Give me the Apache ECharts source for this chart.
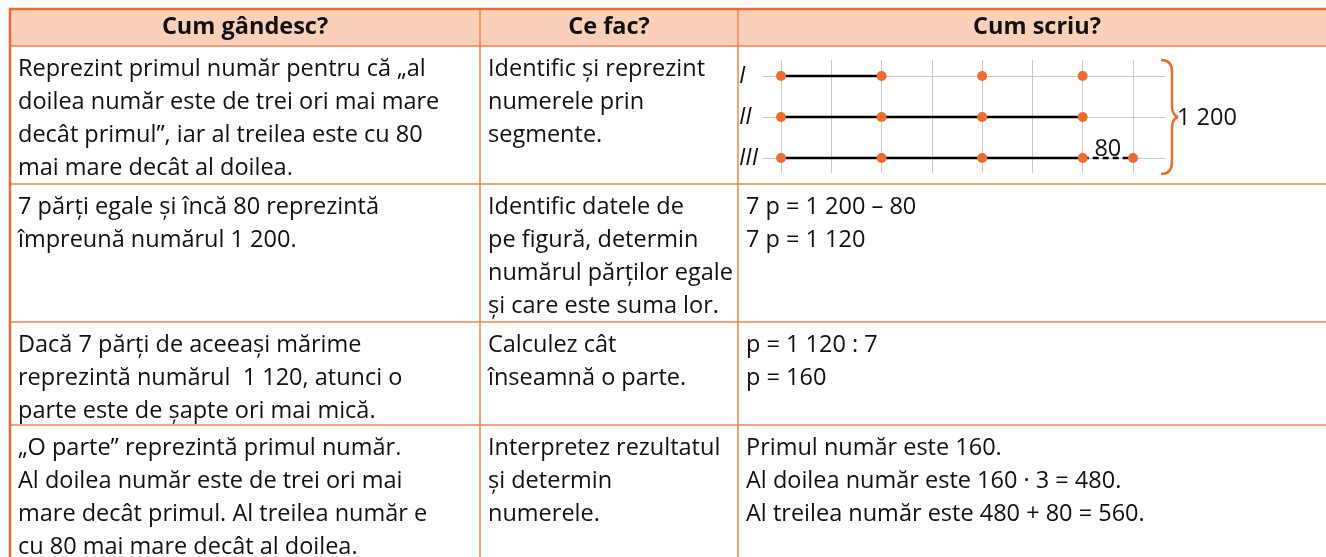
<!DOCTYPE html>
<html>
<head>
<meta charset="utf-8">
<script src="https://cdn.jsdelivr.net/npm/echarts@6/dist/echarts.min.js"></script>
<style>
html,body{margin:0;padding:0;background:#fff;}
#chart{width:1326px;height:557px;}
</style>
</head>
<body>
<div id="chart"></div>
<script>
// ---------- DATA ----------
const headers = ['Cum gândesc?', 'Ce fac?', 'Cum scriu?'];

const col1Texts = [
  ['Reprezint primul număr pentru că „al', 'doilea număr este de trei ori mai mare', 'decât primul”, iar al treilea este cu 80', 'mai mare decât al doilea.'],
  ['7 părți egale și încă 80 reprezintă', 'împreună numărul 1 200.'],
  ['Dacă 7 părți de aceeași mărime', 'reprezintă numărul  1 120, atunci o', 'parte este de șapte ori mai mică.'],
  ['„O parte” reprezintă primul număr.', 'Al doilea număr este de trei ori mai', 'mare decât primul. Al treilea număr e', 'cu 80 mai mare decât al doilea.']
];
const col2Texts = [
  ['Identific și reprezint', 'numerele prin', 'segmente.'],
  ['Identific datele de', 'pe figură, determin', 'numărul părților egale', 'și care este suma lor.'],
  ['Calculez cât', 'înseamnă o parte.'],
  ['Interpretez rezultatul', 'și determin', 'numerele.']
];
const col3Texts = [
  null,
  ['7 p = 1 200 – 80', '7 p = 1 120'],
  ['p = 1 120 : 7', 'p = 160'],
  ['Primul număr este 160.', 'Al doilea număr este 160 · 3 = 480.', 'Al treilea număr este 480 + 80 = 560.']
];

// segment diagram
const rowLabels = ['I', 'II', 'III'];
const gridTicks = [0, 80, 160, 240, 320, 400, 480, 560];
const dotValues = [
  [0, 160, 320, 480],
  [0, 160, 320, 480],
  [0, 160, 320, 480, 560]
];
const solidSegments = [[0, 160], [0, 480], [0, 480]];
const dashedSegment = { row: 2, from: 480, to: 560, label: '80' };
const totalLabel = '1 200';

// ---------- LAYOUT ----------
const FONT = '"Open Sans", Lato, "Noto Sans", sans-serif';
const FS = 23.5;
const LH = 33;
const ORANGE = '#F26B2A';
const INNER = '#F3834F';
const colX = [10, 480, 738, 1336];
const rowY = [9, 46, 184, 322, 425, 600];

const graphics = [];
graphics.push({ type: 'rect', shape: { x: colX[0], y: rowY[0], width: colX[3] - colX[0], height: rowY[1] - rowY[0] }, style: { fill: '#FBD0BA' }, z: 0 });
for (let i = 1; i <= 4; i++) {
  graphics.push({ type: 'line', shape: { x1: colX[0], y1: rowY[i], x2: 1326, y2: rowY[i] }, style: { stroke: INNER, lineWidth: 1.5 }, z: 2 });
}
[colX[1], colX[2]].forEach(x => graphics.push({ type: 'line', shape: { x1: x, y1: rowY[0], x2: x, y2: 557 }, style: { stroke: INNER, lineWidth: 1.5 }, z: 2 }));
graphics.push({ type: 'line', shape: { x1: colX[0], y1: rowY[0], x2: 1326, y2: rowY[0] }, style: { stroke: ORANGE, lineWidth: 2.5 }, z: 3 });
graphics.push({ type: 'line', shape: { x1: colX[0], y1: rowY[0] - 1.2, x2: colX[0], y2: 557 }, style: { stroke: ORANGE, lineWidth: 2.5 }, z: 3 });

headers.forEach((h, i) => {
  graphics.push({ type: 'text', x: (colX[i] + colX[i + 1]) / 2, y: (rowY[0] + rowY[1]) / 2, z: 5,
    style: { text: h, font: 'bold ' + FS + 'px ' + FONT, fill: '#111', align: 'center', verticalAlign: 'middle' } });
});
function cell(lines, col, row) {
  if (!lines) return;
  graphics.push({ type: 'text', x: colX[col] + 8, y: rowY[row + 1] + 7, z: 5,
    style: { text: lines.join('\n'), font: FS + 'px ' + FONT, fill: '#111', lineHeight: LH, align: 'left', verticalAlign: 'top' } });
}
for (let r = 0; r < 4; r++) {
  cell(col1Texts[r], 0, r);
  cell(col2Texts[r], 1, r);
  cell(col3Texts[r], 2, r);
}
// brace (curly bracket) built from curves and lines
const braceStyle = { stroke: ORANGE, lineWidth: 2.5, fill: null };
const bracePieces = [
  { type: 'bezierCurve', shape: { x1: 1161, y1: 60, x2: 1172, y2: 72, cpx1: 1172, cpy1: 60 } },
  { type: 'line', shape: { x1: 1172, y1: 72, x2: 1172, y2: 106 } },
  { type: 'bezierCurve', shape: { x1: 1172, y1: 106, x2: 1178, y2: 117, cpx1: 1172, cpy1: 115 } },
  { type: 'bezierCurve', shape: { x1: 1178, y1: 117, x2: 1172, y2: 128, cpx1: 1172, cpy1: 119 } },
  { type: 'line', shape: { x1: 1172, y1: 128, x2: 1172, y2: 162 } },
  { type: 'bezierCurve', shape: { x1: 1172, y1: 162, x2: 1161, y2: 174, cpx1: 1172, cpy1: 174 } }
];
bracePieces.forEach(p => { p.style = braceStyle; p.z = 5; graphics.push(p); });
graphics.push({ type: 'text', x: 1177, y: 118, z: 5,
  style: { text: totalLabel, font: FS + 'px ' + FONT, fill: '#111', align: 'left', verticalAlign: 'middle' } });

// ---------- SERIES ----------
const nRows = rowLabels.length;
const yOf = i => nRows - i;
const series = [];
solidSegments.forEach((seg, i) => {
  series.push({ type: 'line', xAxisIndex: 0, yAxisIndex: 0, symbol: 'none', silent: true, z: 3,
    lineStyle: { color: '#000', width: 2.5 },
    data: seg.map(v => [v, yOf(i)]) });
});
series.push({ type: 'line', xAxisIndex: 0, yAxisIndex: 0, symbol: 'none', silent: true, z: 3,
  lineStyle: { color: '#000', width: 2.5, type: [6, 4] },
  data: [[dashedSegment.from, yOf(dashedSegment.row)], [dashedSegment.to, yOf(dashedSegment.row)]] });
series.push({ type: 'scatter', xAxisIndex: 0, yAxisIndex: 0, symbolSize: 0, silent: true, z: 4,
  itemStyle: { opacity: 1 },
  label: { show: true, position: 'top', distance: -3, formatter: dashedSegment.label, fontFamily: FONT, fontSize: FS, color: '#111', opacity: 1 },
  data: [[(dashedSegment.from + dashedSegment.to) / 2, yOf(dashedSegment.row)]] });
const dots = [];
dotValues.forEach((vals, i) => vals.forEach(v => dots.push([v, yOf(i)])));
series.push({ type: 'scatter', xAxisIndex: 0, yAxisIndex: 0, symbol: 'circle', symbolSize: 10, silent: true, z: 5,
  itemStyle: { color: ORANGE, opacity: 1 }, data: dots });

const option = {
  animation: false,
  backgroundColor: '#fff',
  graphic: graphics,
  grid: [
    { left: 781, right: 1326 - 1133, top: 60, bottom: 557 - 173 },
    { left: 763, right: 1326 - 1165, top: 76, bottom: 557 - 158 }
  ],
  xAxis: [
    { gridIndex: 0, type: 'value', min: gridTicks[0], max: gridTicks[gridTicks.length - 1], interval: gridTicks[1] - gridTicks[0],
      axisLine: { show: false }, axisTick: { show: false }, axisLabel: { show: false },
      splitLine: { show: true, lineStyle: { color: '#C8C8C8', width: 1 } } },
    { gridIndex: 1, type: 'value', min: 0, max: 1, show: false }
  ],
  yAxis: [
    { gridIndex: 0, type: 'value', min: 1 - 15 / 41, max: nRows + 16 / 41, show: false, splitLine: { show: false } },
    { gridIndex: 1, type: 'category', data: rowLabels.slice().reverse(), boundaryGap: false,
      axisLine: { show: false }, axisTick: { show: false },
      axisLabel: { show: true, align: 'left', margin: 24, fontStyle: 'italic', fontFamily: FONT, fontSize: FS, color: '#111' },
      splitLine: { show: true, showMinLine: true, showMaxLine: true, lineStyle: { color: '#C8C8C8', width: 1 } } }
  ],
  series: series
};

const chart = echarts.init(document.getElementById('chart'), null, { renderer: 'canvas' });
chart.setOption(option);
</script>
</body>
</html>
